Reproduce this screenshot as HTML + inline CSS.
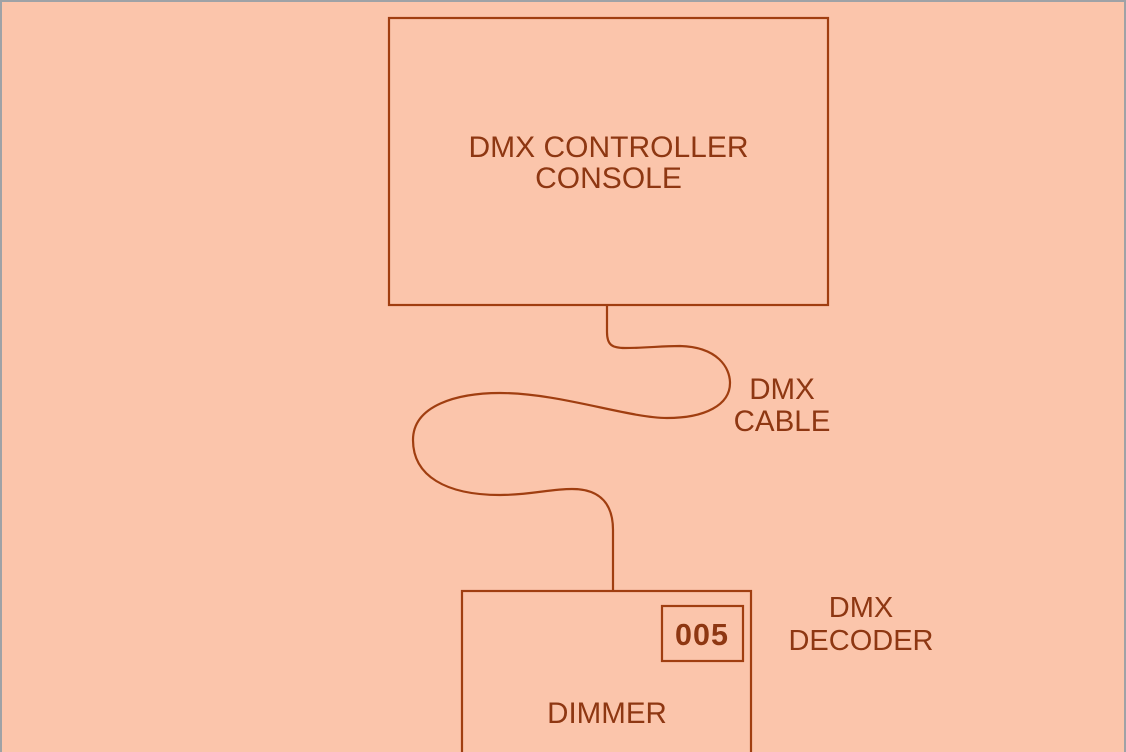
<!DOCTYPE html>
<html>
<head>
<meta charset="utf-8">
<style>
  html,body{margin:0;padding:0;}
  body{width:1126px;height:752px;overflow:hidden;background:#fbc5ab;}
  svg{display:block;}
  text{font-family:"Liberation Sans",Arial,sans-serif;fill:#8e3712;}
</style>
</head>
<body>
<svg width="1126" height="752" viewBox="0 0 1126 752" xmlns="http://www.w3.org/2000/svg">
  <rect x="0" y="0" width="1126" height="752" fill="#fbc5ab"/>
  <!-- grey frame top/left/right -->
  <rect x="0" y="0" width="1126" height="2" fill="#9ea2a6"/>
  <rect x="0" y="0" width="2" height="752" fill="#9ea2a6"/>
  <rect x="1124" y="0" width="2" height="752" fill="#9ea2a6"/>

  <g fill="none" stroke="#a03e10" stroke-width="2.2">
    <!-- controller box -->
    <rect x="389" y="18" width="439" height="287"/>
    <!-- cable -->
    <path d="M607,305 V332 C607,345 612,348 625,348 C648,348 660,346 680,346 C718,347 730,368 730,383 C730,405 705,418 667,418 C628,418 560,393 500,393 C458,393 413,405 413,440 C413,476 446,495 500,495 C530,495 550,489 572,489 C602,489 613,506 613,530 L613,591"/>
    <!-- dimmer box -->
    <rect x="462" y="591" width="289" height="175"/>
    <!-- address box -->
    <rect x="662" y="606" width="81" height="55"/>
  </g>

  <text x="608.5" y="157" font-size="30" text-anchor="middle">DMX CONTROLLER</text>
  <text x="608.5" y="188" font-size="30" text-anchor="middle">CONSOLE</text>

  <text x="782" y="399" font-size="29.5" text-anchor="middle">DMX</text>
  <text x="782" y="431" font-size="29.5" text-anchor="middle">CABLE</text>

  <text x="861" y="617" font-size="29" text-anchor="middle">DMX</text>
  <text x="861" y="650" font-size="29" text-anchor="middle">DECODER</text>

  <text x="702" y="645" font-size="30.5" font-weight="bold" text-anchor="middle" letter-spacing="1">005</text>

  <text x="607" y="723" font-size="29.5" text-anchor="middle">DIMMER</text>
</svg>
</body>
</html>
